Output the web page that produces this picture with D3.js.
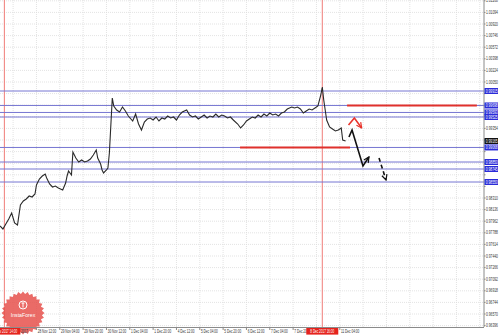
<!DOCTYPE html>
<html lang="en">
<head>
<meta charset="UTF-8" />
<title>H1 chart with levels</title>
<style>
  body { margin: 0; background: #fff; }
  svg { display: block; font-family: "Liberation Sans", "DejaVu Sans", sans-serif; }
</style>
</head>
<body>
<svg id="chart"></svg>
<script src="https://d3js.org/d3.v7.min.js"></script>
<script>
const W = 499, H = 335;
const plotW = 484, plotH = 327;

// right axis labels
const priceTicks = [1.01268, 1.01094, 1.00920, 1.00746, 1.00572, 1.00398, 1.00224, 1.00050,
  0.99876, 0.99702, 0.99528, 0.99354, 0.99180, 0.99006, 0.98832, 0.98658, 0.98484, 0.98310,
  0.98136, 0.97962, 0.97788, 0.97614, 0.97440, 0.97266, 0.97092, 0.96918, 0.96744, 0.96570, 0.96396];

// bottom axis labels (bar index, text)
const timeTicks = [
  [25, "28 Nov 12:00"], [41, "29 Nov 04:00"], [57, "29 Nov 20:00"], [73, "30 Nov 12:00"],
  [89, "1 Dec 04:00"], [105, "1 Dec 20:00"], [121, "4 Dec 12:00"], [137, "5 Dec 04:00"],
  [153, "5 Dec 20:00"], [169, "6 Dec 12:00"], [185, "7 Dec 04:00"], [201, "7 Dec 20:00"],
  [217, "8 Dec 12:00"], [233, "11 Dec 04:00"]
];

// closes (bar index, price)
const closes = [
  [0,0.97890],[2,0.97845],[4,0.97920],[6,0.97995],[8,0.98085],[10,0.97935],[12,0.97905],
  [14,0.98205],[16,0.98265],[18,0.98295],[20,0.98340],[22,0.98325],[24,0.98370],[25,0.98505],
  [27,0.98595],[29,0.98640],[31,0.98670],[32,0.98610],[34,0.98520],[36,0.98475],[38,0.98490],
  [40,0.98460],[43,0.98430],[45,0.98535],[46,0.98640],[47,0.98715],[49,0.98655],[50,0.99000],
  [52,0.98910],[54,0.98850],[56,0.98880],[58,0.98850],[60,0.98865],[62,0.98895],[64,0.98955],
  [66,0.99030],[67,0.98910],[69,0.98820],[70,0.98730],[71,0.98685],[73,0.98730],[74,0.98760],
  [75,0.98985],[77,0.99810],[78,0.99690],[80,0.99630],[82,0.99600],[84,0.99675],[86,0.99615],
  [88,0.99540],[91,0.99465],[93,0.99570],[95,0.99420],[97,0.99330],[99,0.99450],[101,0.99495],
  [103,0.99510],[105,0.99480],[107,0.99525],[109,0.99465],[111,0.99510],[113,0.99495],
  [115,0.99540],[117,0.99510],[119,0.99525],[121,0.99480],[123,0.99555],[125,0.99600],
  [128,0.99630],[130,0.99555],[132,0.99525],[134,0.99540],[136,0.99495],[138,0.99525],
  [140,0.99555],[142,0.99510],[144,0.99540],[146,0.99525],[148,0.99570],[150,0.99525],
  [152,0.99555],[154,0.99540],[156,0.99510],[158,0.99525],[160,0.99480],[163,0.99420],
  [165,0.99360],[167,0.99405],[169,0.99465],[171,0.99495],[173,0.99525],[175,0.99510],
  [177,0.99555],[179,0.99525],[181,0.99570],[183,0.99540],[185,0.99585],[187,0.99555],
  [189,0.99570],[191,0.99540],[193,0.99585],[195,0.99600],[197,0.99645],[200,0.99675],
  [202,0.99660],[204,0.99675],[206,0.99645],[208,0.99585],[210,0.99615],[212,0.99645],
  [214,0.99630],[216,0.99660],[218,0.99690],[220,0.99855],[221,0.99975],[222,0.99780],
  [223,0.99630],[224,0.99480],[226,0.99375],[228,0.99345],[230,0.99315],[232,0.99330],
  [234,0.99360],[235,0.99180],[237,0.99165]
];
const lastPrice = 0.99165;

// horizontal levels
const levels = [0.99915, 0.99698, 0.99593, 0.99525, 0.99068, 0.98850, 0.98745, 0.98550];
// red segments: [bar from, bar to, price]
const redSegments = [[238, 327, 0.99698], [164.6, 240, 0.99068]];
// vertical lines (bar, label)
const vLines = [[3, "27 Nov 2017 14:00"], [221, "8 Dec 2017 16:00"]];

// forecast drawings (bar, price)
const forecastRed = [[239, 0.99405], [243, 0.99510], [248, 0.99360]];
const forecastBlack = [[239.3, 0.99225], [241.4, 0.99330], [248.9, 0.98790], [253, 0.98925]];
const forecastDashed = [[259.9, 0.98910], [264.7, 0.98580]];

const svg = d3.select("#chart").attr("width", W).attr("height", H);
svg.append("rect").attr("width", W).attr("height", H).attr("fill", "#fff");

const x = d3.scaleLinear().domain([0, plotW / 1.4583]).range([0, plotW]);
const y = d3.scaleLinear().domain([1.0128, 0.96375]).range([0, plotH]);

const defs = svg.append("defs");
defs.append("clipPath").attr("id", "plotclip")
  .append("rect").attr("width", plotW).attr("height", plotH);
function marker(id, color) {
  defs.append("marker").attr("id", id)
    .attr("viewBox", "0 0 8 8").attr("refX", 7).attr("refY", 4)
    .attr("markerWidth", 7).attr("markerHeight", 7)
    .attr("markerUnits", "userSpaceOnUse").attr("orient", "auto")
    .append("path").attr("d", "M1,1 L7,4 L1,7")
    .attr("fill", "none").attr("stroke", color).attr("stroke-width", 1.4);
}
marker("headRed", "#e8332b");
marker("headBlack", "#111");

// small squeezed text helper
function tinyText(sel, px, py, str, opts = {}) {
  return sel.append("text")
    .attr("transform", `translate(${px},${py}) scale(${opts.sx || 0.72},1)`)
    .attr("font-size", opts.size || 4.6)
    .attr("text-anchor", opts.anchor || "start")
    .attr("fill", opts.fill || "#333")
    .text(str);
}

const plot = svg.append("g").attr("clip-path", "url(#plotclip)");

// grid
const gridBars = d3.range(-1, 20).map(k => 25 + 16 * k);
plot.selectAll(".vgrid").data(gridBars).join("line")
  .attr("x1", d => x(d)).attr("x2", d => x(d))
  .attr("y1", 0).attr("y2", plotH)
  .attr("stroke", "#dcdcdc").attr("stroke-width", 0.8).attr("stroke-dasharray", "1 1");
plot.selectAll(".hgrid").data(priceTicks).join("line")
  .attr("x1", 0).attr("x2", plotW)
  .attr("y1", d => y(d)).attr("y2", d => y(d))
  .attr("stroke", "#dcdcdc").attr("stroke-width", 0.8).attr("stroke-dasharray", "1 1");

// vertical red lines
plot.selectAll(".vline").data(vLines).join("line")
  .attr("x1", d => x(d[0])).attr("x2", d => x(d[0]))
  .attr("y1", 0).attr("y2", plotH)
  .attr("stroke", "#f07c78").attr("stroke-width", 1);

// levels
plot.selectAll(".level").data(levels).join("line")
  .attr("x1", 0).attr("x2", plotW)
  .attr("y1", d => y(d)).attr("y2", d => y(d))
  .attr("stroke", "#7676d2").attr("stroke-width", 1);

plot.selectAll(".redseg").data(redSegments).join("line")
  .attr("x1", d => x(d[0])).attr("x2", d => x(d[1]))
  .attr("y1", d => y(d[2])).attr("y2", d => y(d[2]))
  .attr("stroke", "#e0312c").attr("stroke-width", 2);

// price
plot.append("path").datum(closes)
  .attr("fill", "none").attr("stroke", "#2a2a2a").attr("stroke-width", 1.1)
  .attr("d", d3.line().x(d => x(d[0])).y(d => y(d[1])));

// forecast
const fl = d3.line().x(d => x(d[0])).y(d => y(d[1]));
plot.append("path").datum(forecastRed).attr("d", fl)
  .attr("fill", "none").attr("stroke", "#e8332b").attr("stroke-width", 1.6)
  .attr("marker-end", "url(#headRed)");
plot.append("path").datum(forecastBlack).attr("d", fl)
  .attr("fill", "none").attr("stroke", "#111").attr("stroke-width", 1.6)
  .attr("marker-end", "url(#headBlack)");
plot.append("path").datum(forecastDashed).attr("d", fl)
  .attr("fill", "none").attr("stroke", "#111").attr("stroke-width", 1.6)
  .attr("stroke-dasharray", "4 3")
  .attr("marker-end", "url(#headBlack)");

// watermark
const cx = 23, cy = 313;
const teeth = d3.range(56).map(i => [i * Math.PI * 2 / 56, i % 2 ? 19 : 21.5]);
svg.append("path")
  .attr("transform", `translate(${cx},${cy})`)
  .attr("d", d3.lineRadial().angle(d => d[0]).radius(d => d[1]).curve(d3.curveLinearClosed)(teeth))
  .attr("fill", "#e6514c").attr("opacity", 0.85);
svg.append("circle").attr("cx", cx).attr("cy", cy - 8).attr("r", 4)
  .attr("fill", "none").attr("stroke", "#fff").attr("stroke-width", 1);
svg.append("path").attr("d", `M${cx - 1.5},${cy - 10} L${cx + 1.5},${cy - 10} M${cx},${cy - 10} L${cx},${cy - 5.5}`)
  .attr("stroke", "#fff").attr("stroke-width", 1);
svg.append("text").attr("x", cx).attr("y", cy + 4).attr("text-anchor", "middle")
  .attr("font-size", 5.2).attr("fill", "#fff").text("InstaForex");

// axes frame
svg.append("line").attr("x1", plotW).attr("x2", plotW).attr("y1", 0).attr("y2", plotH)
  .attr("stroke", "#8a8a8a").attr("stroke-width", 1);
svg.append("line").attr("x1", 0).attr("x2", plotW).attr("y1", plotH + 0.5).attr("y2", plotH + 0.5)
  .attr("stroke", "#8a8a8a").attr("stroke-width", 1);

// right axis labels (hidden where an object label sits, like the terminal does)
const boxed = levels.concat([lastPrice]);
const pAxis = svg.append("g");
priceTicks
  .filter(p => !boxed.some(b => Math.abs(y(b) - y(p)) < 6))
  .forEach(p => tinyText(pAxis, plotW + 2, y(p) + 1.6, p.toFixed(5)));
pAxis.selectAll("line").data(priceTicks).join("line")
  .attr("x1", plotW).attr("x2", plotW + 1.5)
  .attr("y1", d => y(d)).attr("y2", d => y(d)).attr("stroke", "#8a8a8a");

function priceBox(p, fill) {
  const g = svg.append("g").attr("transform", `translate(${plotW + 0.5},${y(p)})`);
  g.append("rect").attr("x", 0).attr("y", -3).attr("width", 13.5).attr("height", 6).attr("fill", fill);
  tinyText(g, 1.2, 1.6, p.toFixed(5), { fill: "#fff" });
}
levels.forEach(p => priceBox(p, "#2b2bd8"));
priceBox(lastPrice, "#111");

// bottom axis labels
const tAxis = svg.append("g");
tAxis.selectAll("line").data(timeTicks).join("line")
  .attr("x1", d => x(d[0])).attr("x2", d => x(d[0]))
  .attr("y1", plotH).attr("y2", plotH + 3).attr("stroke", "#8a8a8a");
timeTicks
  .filter(([b]) => !vLines.some(v => Math.abs(x(v[0]) - x(b)) < 10))
  .forEach(([b, label]) => tinyText(tAxis, x(b) + 1.2, plotH + 6.3, label, { sx: 0.68 }));
tinyText(svg, 21, plotH + 6.3, "2017", { sx: 0.68 });

vLines.forEach(([b, label]) => {
  const g = svg.append("g").attr("transform", `translate(${x(b)},${plotH + 1})`);
  g.append("rect").attr("x", -16).attr("y", 0).attr("width", 32).attr("height", 6.6).attr("fill", "#e5231d");
  tinyText(g, 0, 5, label, { fill: "#fff", anchor: "middle", sx: 0.66 });
});
</script>
</body>
</html>
